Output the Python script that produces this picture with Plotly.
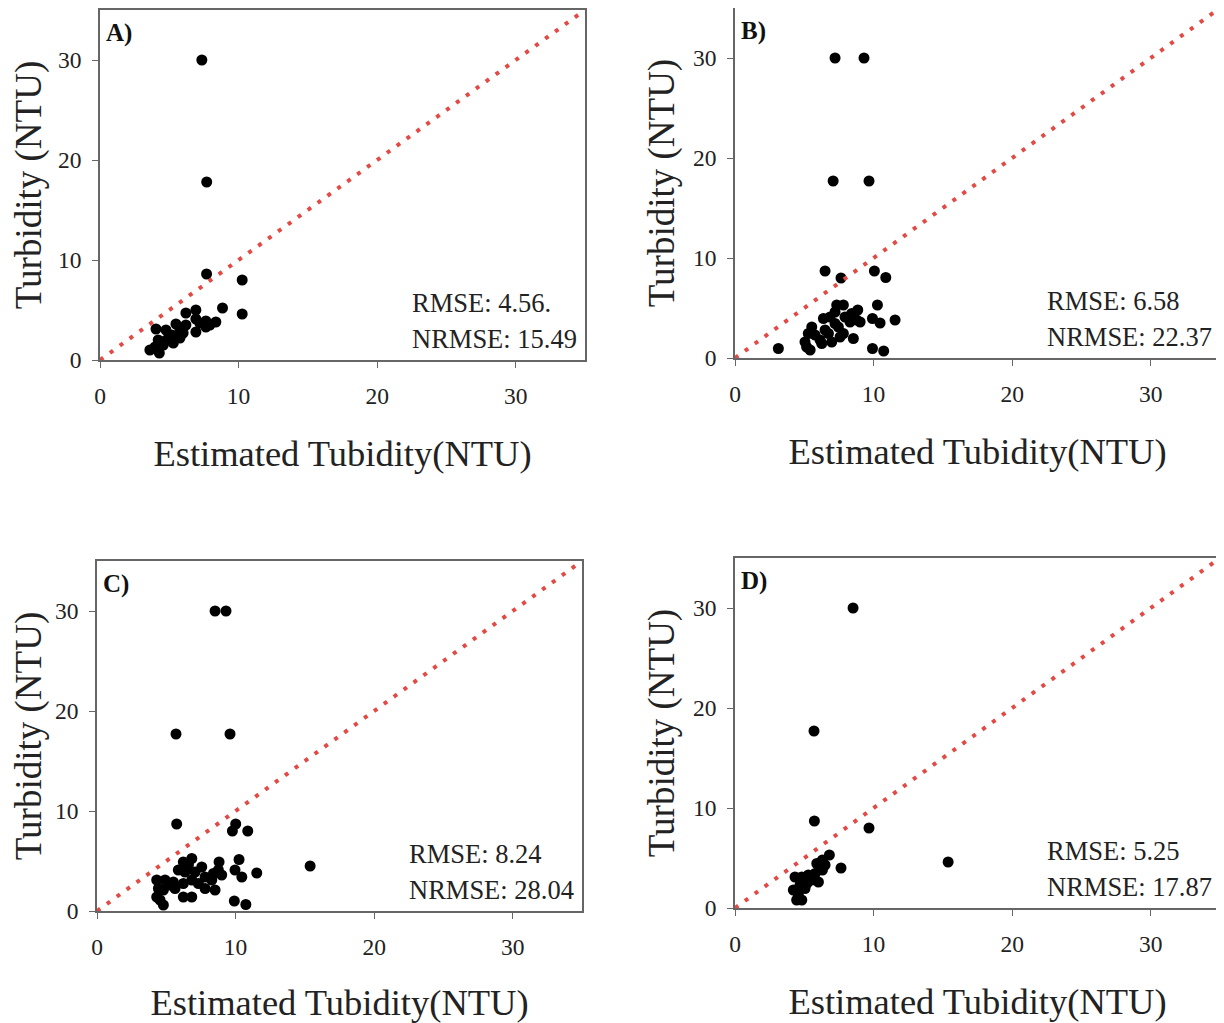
import plotly.graph_objects as go

# ---- data (estimated turbidity x, measured turbidity y) ----
a_est = [7.35, 7.7, 7.69, 10.26, 10.26, 8.84, 6.92, 6.2, 4.04, 4.76, 5.48, 6.2, 6.92, 7.64, 8.36,
         7.64, 6.92, 5.77, 5.17, 5.77, 5.29, 4.57, 4.2, 3.6, 4.28, 3.97, 4.8, 6.0, 7.2, 7.93]
a_obs = [30, 17.8, 8.6, 8.0, 4.6, 5.2, 5.0, 4.7, 3.1, 3.0, 3.6, 3.5, 4.1, 3.9, 3.8,
         3.3, 2.8, 3.0, 2.5, 2.2, 1.7, 1.5, 2.0, 1.0, 0.7, 1.3, 2.0, 2.7, 3.7, 3.5]

b_est = [7.22, 9.31, 7.08, 9.67, 3.13, 6.5, 7.65, 10.06, 10.88, 11.55, 10.28, 9.92, 10.47, 9.92,
         10.73, 8.86, 9.03, 8.54, 7.82, 7.22, 6.86, 6.38, 5.54, 5.05, 5.42, 6.14, 6.98, 6.5, 7.46,
         7.94, 8.3, 7.82, 8.42, 7.22, 5.78, 5.29, 6.74, 5.17, 6.26, 7.34, 8.78, 7.58]
b_obs = [30, 30, 17.7, 17.7, 0.95, 8.7, 8.0, 8.7, 8.05, 3.8, 5.3, 3.95, 3.5, 0.95,
         0.7, 4.8, 3.6, 1.95, 5.3, 4.6, 4.1, 3.95, 3.1, 1.6, 0.8, 1.8, 1.6, 2.8, 3.1,
         4.1, 3.6, 2.45, 4.45, 3.45, 2.3, 2.45, 2.45, 1.1, 1.45, 5.3, 3.8, 2.1]

c_est = [8.52, 9.31, 5.7, 9.6, 15.38, 5.75, 10.01, 9.77, 10.88, 10.25, 11.53, 9.96, 10.45, 9.91,
         10.74, 8.81, 9.0, 8.52, 7.8, 8.28, 7.56, 6.84, 6.23, 5.87, 6.35, 7.08, 6.84, 6.23, 5.51,
         4.91, 4.31, 4.43, 4.79, 4.31, 4.55, 4.79, 5.63, 6.23, 6.84, 7.32, 7.8, 8.76, 8.4, 6.6, 5.27]
c_obs = [30, 30, 17.7, 17.7, 4.5, 8.7, 8.7, 8.0, 8.0, 5.15, 3.8, 4.1, 3.4, 1.0,
         0.65, 4.9, 3.6, 2.1, 2.25, 3.1, 4.4, 5.25, 4.9, 4.1, 3.9, 3.9, 3.1, 2.75, 2.9,
         3.1, 3.1, 2.25, 2.1, 1.4, 1.1, 0.6, 2.25, 1.4, 1.4, 2.75, 3.4, 4.1, 3.75, 4.6, 2.6]

d_est = [8.52, 5.7, 9.67, 15.38, 5.73, 7.65, 6.81, 6.31, 5.9, 6.31, 6.02, 5.78, 5.29, 4.33,
         4.82, 4.69, 4.21, 4.57, 4.82, 5.18, 5.54, 5.05, 4.45, 6.5]
d_obs = [30, 17.7, 8.0, 4.6, 8.7, 4.0, 5.3, 4.8, 4.45, 3.8, 2.6, 3.45, 3.3, 3.1,
         3.1, 2.3, 1.8, 1.3, 0.8, 2.45, 2.8, 1.95, 0.8, 4.3]

panel_labels = ["A)", "B)", "C)", "D)"]
rmse_text = ["RMSE: 4.56.", "RMSE: 6.58", "RMSE: 8.24", "RMSE: 5.25"]
nrmse_text = ["NRMSE: 15.49", "NRMSE: 22.37", "NRMSE: 28.04", "NRMSE: 17.87"]
one_to_one = [0, 35]
tick_vals = [0, 10, 20, 30]

FONT = "Liberation Serif"
OFF = 8  # page body margin
W, H = 1224 - OFF, 1023 - OFF

# pixel boxes (page coordinates) for plotting areas: (left, right, top, bottom)
boxes = [(100, 585, 10, 360), (735, 1220, 8, 358), (97, 582, 561, 911), (735, 1220, 558, 908)]

fig = go.Figure()
series = [(a_est, a_obs), (b_est, b_obs), (c_est, c_obs), (d_est, d_obs)]

for i, (xs, ys) in enumerate(series):
    n = "" if i == 0 else str(i + 1)
    xa, ya = "x" + n, "y" + n
    fig.add_trace(go.Scatter(x=xs, y=ys, mode="markers", xaxis=xa, yaxis=ya,
                             marker=dict(color="black", size=11, line=dict(width=0)),
                             showlegend=False, cliponaxis=False))
    fig.add_trace(go.Scatter(x=one_to_one, y=one_to_one, mode="lines", xaxis=xa, yaxis=ya,
                             line=dict(color="#e24a45", width=4, dash="4px,8.2px"),
                             showlegend=False))
    l, r, t, b = [v - OFF for v in boxes[i]]
    axis_common = dict(range=[0, 35], tickvals=tick_vals, showgrid=False, zeroline=False,
                       showline=True, linecolor="#666", linewidth=1.5, mirror=True,
                       ticks="outside", ticklen=6, tickcolor="#666", tickwidth=1.2,
                       automargin=False,
                       tickfont=dict(family=FONT, size=23.5, color="#222"))
    fig.layout["xaxis" + n] = dict(axis_common, domain=[l / W, min(r / W, 1)], anchor=ya,
                                   ticklabelstandoff=8,
                                   title=dict(text="Estimated Tubidity(NTU)", standoff=32,
                                              font=dict(family=FONT, size=36.5, color="#222")))
    fig.layout["yaxis" + n] = dict(axis_common, domain=[1 - b / H, 1 - t / H], anchor=xa,
                                   ticklabelstandoff=6,
                                   title=dict(text="Turbidity (NTU)", standoff=7,
                                              font=dict(family=FONT, size=37, color="#222")))
    fig.add_annotation(x=0.3, y=32.7, xref=xa, yref=ya, text="<b>" + panel_labels[i] + "</b>",
                       showarrow=False, xanchor="left", yanchor="middle",
                       font=dict(family=FONT, size=25, color="#111"))
    fig.add_annotation(x=22.35, y=5.7, xref=xa, yref=ya, text=rmse_text[i],
                       showarrow=False, xanchor="left", yanchor="middle",
                       font=dict(family=FONT, size=26.5, color="#222"))
    fig.add_annotation(x=22.35, y=2.1, xref=xa, yref=ya, text=nrmse_text[i],
                       showarrow=False, xanchor="left", yanchor="middle",
                       font=dict(family=FONT, size=26.5, color="#222"))

fig.update_layout(width=W, height=H, margin=dict(l=0, r=0, t=0, b=0),
                  paper_bgcolor="white", plot_bgcolor="white")

fig.write_html("out.html")
